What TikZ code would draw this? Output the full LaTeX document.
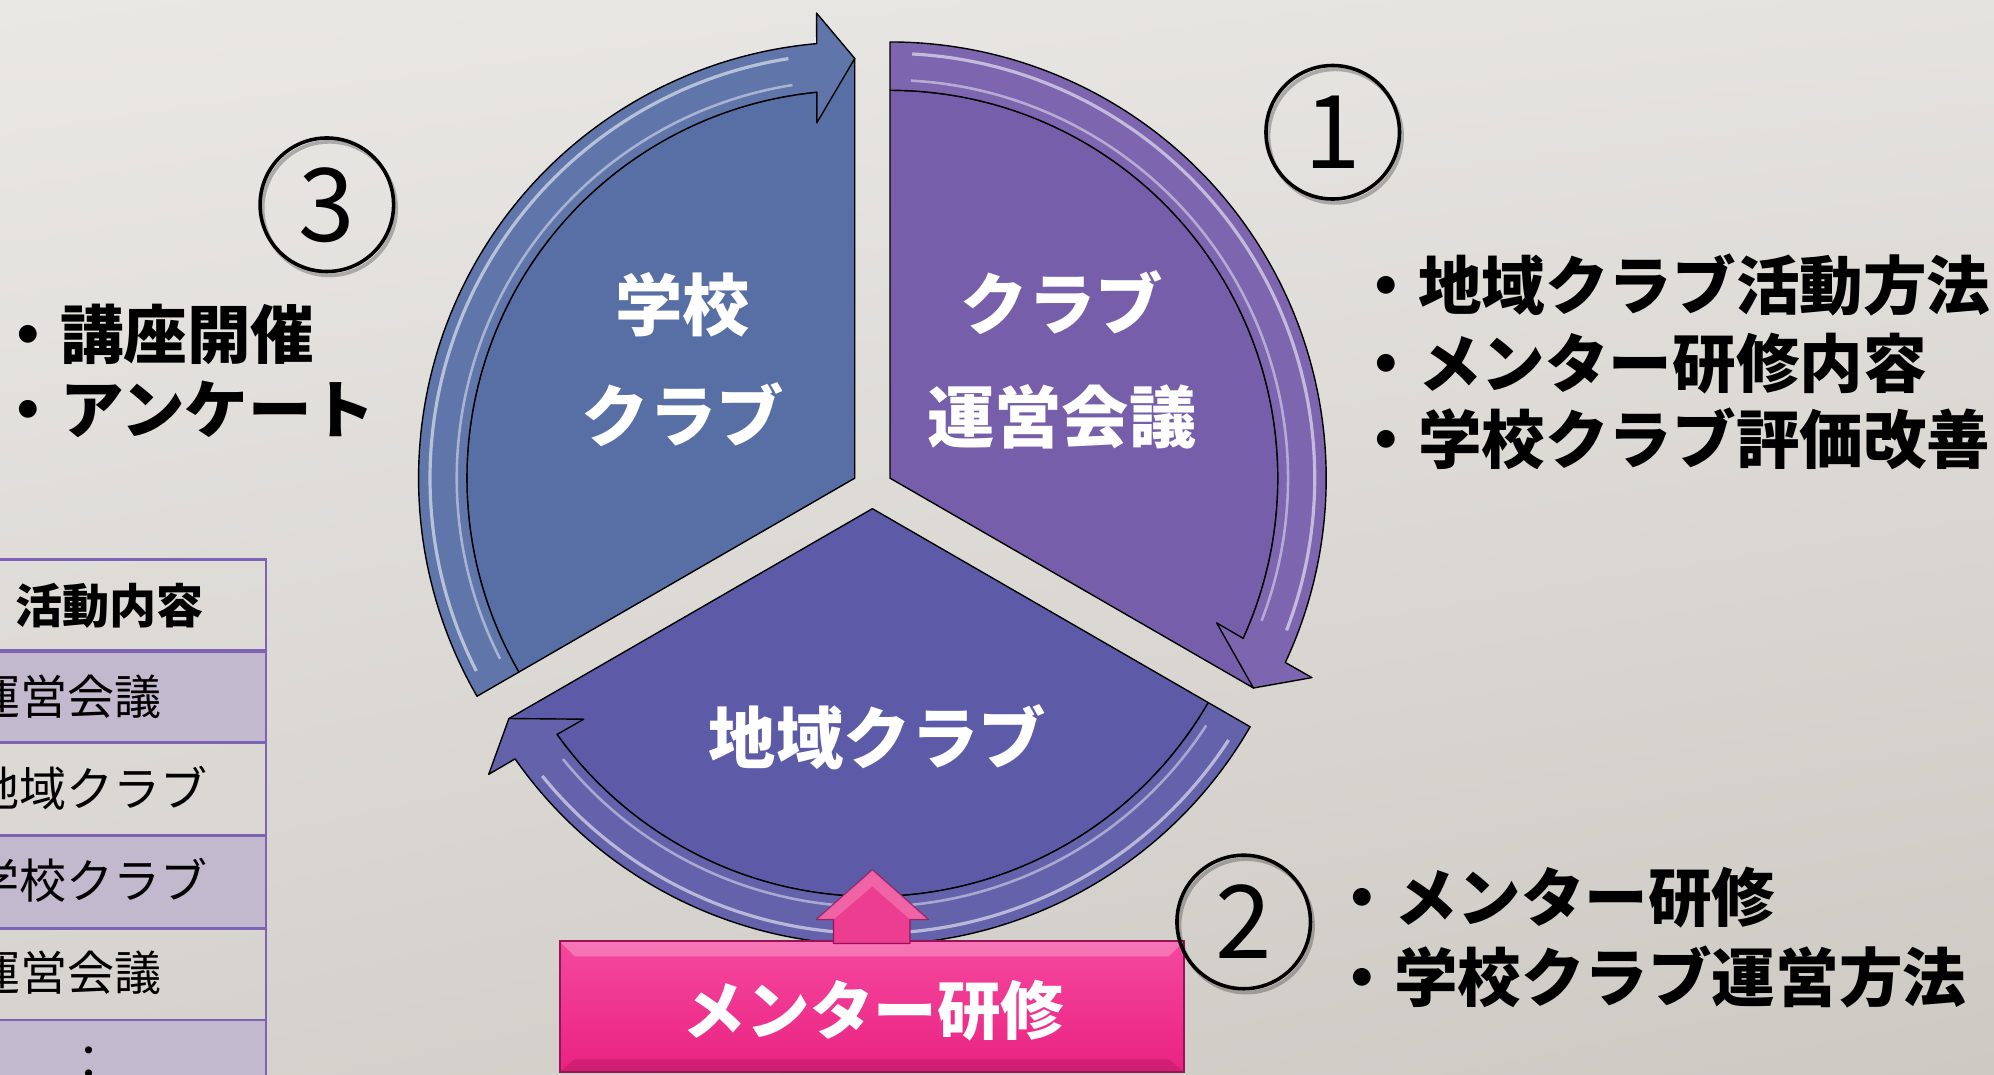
\documentclass[tikz,border=0pt]{standalone}
\usepackage{fontspec}
\usetikzlibrary{shadings}
\newfontfamily\jp{Noto Sans CJK JP}
\definecolor{bgTL}{RGB}{234,232,229}
\definecolor{bgTR}{RGB}{229,227,223}
\definecolor{bgBL}{RGB}{214,211,206}
\definecolor{bgBR}{RGB}{205,201,195}
\definecolor{secL}{RGB}{88,111,166}
\definecolor{secR}{RGB}{118,94,171}
\definecolor{secB}{RGB}{93,90,168}
\definecolor{pinkM}{RGB}{234,34,130}
\definecolor{pinkT}{RGB}{244,72,158}
\definecolor{pinkD}{RGB}{150,20,86}
\definecolor{tblLine}{RGB}{126,98,179}
\definecolor{tblFill}{RGB}{195,185,206}
\tikzset{
  outl/.style={draw=black,line width=1.1pt,line join=round},
  segtxt/.style={text=white,inner sep=0,font=\jp\bfseries\fontsize{53}{60}\selectfont},
  blk/.style={anchor=west,inner sep=0,text=black,font=\jp\bfseries\fontsize{50}{60}\selectfont},
  tbl/.style={anchor=west,inner sep=0,text=black,font=\jp\fontsize{37}{44}\selectfont},
  tblhead/.style={inner sep=0,text=black,font=\jp\bfseries\fontsize{37}{44}\selectfont},
  num/.style={circle,draw=black,line width=2.8pt,minimum size=105pt,inner sep=0,font=\jp\fontsize{80}{80}\selectfont},
  numshadow/.style={draw=black,line width=3pt,opacity=.25},
  hilite/.style={draw=white,opacity=.55,line width=2.5pt},
}
\newcommand\drawSeg[2]{%
  \begin{scope}[shift={(686,-384)},rotate=#1]
  \begin{scope}[shift={(150:16)}]
    \filldraw[outl,fill=#2] (0,0) -- (210:305)
      arc[start angle=210,end angle=96,radius=305] -- (90:330) -- cycle;
    \filldraw[outl,fill=#2!95!white] (210:343)
      arc[start angle=210,end angle=95,radius=343] -- (94.7:367) -- (90:330)
      -- (96.1:281) -- (95.6:305) arc[start angle=95.6,end angle=210,radius=305] -- cycle;
    \draw[hilite] (207:334) arc[start angle=207,end angle=99,radius=334];
    \draw[hilite,opacity=.45,line width=2pt] (207:313) arc[start angle=207,end angle=99,radius=313];
  \end{scope}\end{scope}}
\begin{document}
\begin{tikzpicture}[x=1pt,y=1pt]
\useasboundingbox (0,0) rectangle (1568,-845);
\shade[upper left=bgTL,upper right=bgTR,lower left=bgBL,lower right=bgBR] (0,0) rectangle (1568,-845);

% table
\fill[tblFill] (-10,-512) rectangle (209,-584);
\fill[tblFill] (-10,-657) rectangle (209,-730);
\fill[tblFill] (-10,-802) rectangle (209,-860);
\draw[tblLine,line width=2pt] (-10,-440) -- (209,-440) -- (209,-860);
\draw[tblLine,line width=3.5pt] (-10,-512) -- (209,-512);
\foreach \yy in {584,657,730,802}{\draw[tblLine,line width=2pt] (-10,-\yy) -- (209,-\yy);}
\node[tblhead] (th) at (86,-476) {活動内容};
\node[tbl] (t1) at (-21,-548) {運営会議};
\node[tbl] (t2) at (-22,-620) {地域クラブ};
\node[tbl] (t3) at (-22,-692) {学校クラブ};
\node[tbl] (t4) at (-21,-765) {運営会議};
\node[inner sep=0,font=\jp\fontsize{37}{44}\selectfont] (t5) at (70,-836) {：};

% cycle segments
\drawSeg{0}{secL}
\drawSeg{-120}{secR}
\drawSeg{120}{secB}

\node[segtxt] (sL1) at (537,-240) {学校};
\node[segtxt] (sL2) at (537,-326) {クラブ};
\node[segtxt] (sR1) at (835,-238) {クラブ};
\node[segtxt] (sR2) at (835,-328) {運営会議};
\node[segtxt] (sB) at (690,-580) {地域クラブ};

% lists
\node[blk] (l1) at (-3,-263) {・講座開催};
\node[blk] (l2) at (-3,-322) {・アンケート};
\node[blk] (r1) at (1065,-224) {・地域クラブ活動方法};
\node[blk] (r2) at (1065,-286) {・メンター研修内容};
\node[blk] (r3) at (1065,-345) {・学校クラブ評価改善};
\node[blk] (b1) at (1046,-706) {・メンター研修};
\node[blk] (b2) at (1046,-768) {・学校クラブ運営方法};

% pink box and arrow
\shade[top color=pinkT,bottom color=pinkM] (440,-740) rectangle (931,-843);
\fill[white,opacity=.25] (440,-740) -- (931,-740) -- (919,-752) -- (452,-752) -- cycle;
\fill[pinkD,opacity=.3] (440,-843) -- (931,-843) -- (919,-833) -- (452,-833) -- cycle;
\draw[pinkD,line width=1.5pt] (440,-740) rectangle (931,-843);
\node[segtxt,font=\jp\bfseries\fontsize{50}{60}\selectfont] (mbox) at (687,-795) {メンター研修};
\filldraw[fill=pinkM!88!white,draw=pinkD,line width=1pt,line join=round]
  (686,-684) -- (730,-723) -- (715.5,-723) -- (715.5,-742) -- (655.5,-742) -- (655.5,-723) -- (642,-723) -- cycle;
\fill[white,opacity=.2] (686,-684) -- (730,-723) -- (715.5,-723) -- (686,-697) -- (655.5,-723) -- (642,-723) -- cycle;

% circled numbers
\draw[numshadow] (1050,-107) circle[radius=52.5];
\draw[numshadow] (980,-728) circle[radius=52.5];
\draw[numshadow] (259,-164) circle[radius=52.5];
\node[num] (n1) at (1048,-104) {1};
\node[num] (n2) at (978,-725) {2};
\node[num] (n3) at (257,-161) {3};
\end{tikzpicture}
\end{document}
